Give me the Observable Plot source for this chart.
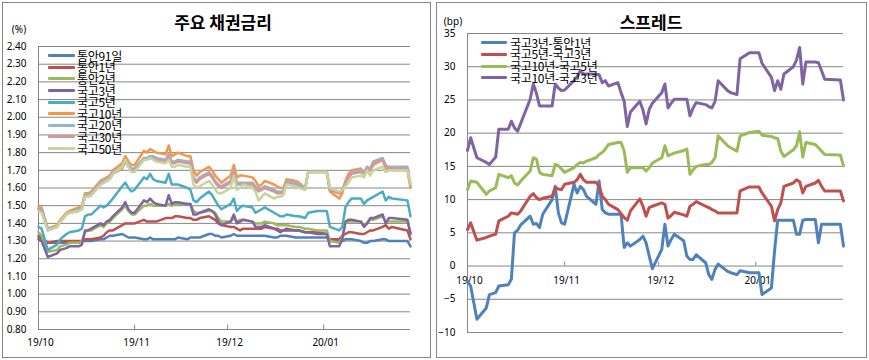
<!DOCTYPE html>
<html><head><meta charset="utf-8">
<script src="https://cdn.jsdelivr.net/npm/d3@7"></script>
<script src="https://cdn.jsdelivr.net/npm/@observablehq/plot@0.6"></script>
<style>
body{margin:0;background:#fff;width:869px;height:360px;overflow:hidden;position:relative;font-family:"Noto Sans CJK KR","Noto Sans",sans-serif;color:#000}
.panel{position:absolute;border:1px solid #868686;box-sizing:border-box;background:#fff}
.panel svg{position:absolute;left:0;top:0}
.abs{position:absolute;white-space:nowrap;line-height:1}
.title{font-weight:bold;font-size:17px;transform:translate(-50%,-50%)}
.unit{font-size:10px;transform:translate(-50%,-50%);font-family:"Noto Sans","Noto Sans CJK KR",sans-serif}
.lg{font-size:12px;transform:translateY(-50%);letter-spacing:-0.3px}
.sw{position:absolute;height:3px;border-radius:1px}
</style></head><body>
<div id="left" class="panel" style="left:2px;top:2px;width:429px;height:356px"></div>
<div id="right" class="panel" style="left:436px;top:2px;width:431px;height:356px"></div>
<script>
const dates = [
"2019-10-01","2019-10-02","2019-10-04","2019-10-07","2019-10-08","2019-10-10","2019-10-11","2019-10-14","2019-10-15","2019-10-16","2019-10-17","2019-10-18","2019-10-21","2019-10-22","2019-10-23","2019-10-24","2019-10-25","2019-10-28","2019-10-29","2019-10-30","2019-10-31",
"2019-11-01","2019-11-04","2019-11-05","2019-11-06","2019-11-07","2019-11-08","2019-11-11","2019-11-12","2019-11-13","2019-11-14","2019-11-15","2019-11-18","2019-11-19","2019-11-20","2019-11-21","2019-11-22","2019-11-25","2019-11-26","2019-11-27","2019-11-28","2019-11-29",
"2019-12-02","2019-12-03","2019-12-04","2019-12-05","2019-12-06","2019-12-09","2019-12-10","2019-12-11","2019-12-12","2019-12-13","2019-12-16","2019-12-17","2019-12-18","2019-12-19","2019-12-20","2019-12-23","2019-12-24","2019-12-26","2019-12-27","2019-12-30",
"2020-01-02","2020-01-03","2020-01-06","2020-01-07","2020-01-08","2020-01-09","2020-01-10","2020-01-13","2020-01-14","2020-01-15","2020-01-16","2020-01-17","2020-01-20","2020-01-21","2020-01-22","2020-01-23","2020-01-28","2020-01-29"];

// 주요 채권금리 (%)
const msb91d = [1.32,1.31,1.29,1.29,1.29,1.29,1.29,1.29,1.30,1.30,1.30,1.30,1.31,1.31,1.32,1.33,1.33,1.34,1.33,1.32,1.32,
 1.32,1.31,1.31,1.32,1.31,1.31,1.31,1.31,1.31,1.31,1.32,1.31,1.32,1.32,1.32,1.32,1.34,1.34,1.33,1.33,1.32,
 1.33,1.34,1.33,1.33,1.33,1.33,1.33,1.33,1.33,1.33,1.32,1.32,1.33,1.33,1.33,1.32,1.32,1.32,1.32,1.32,
 1.32,1.30,1.30,1.30,1.31,1.31,1.31,1.30,1.29,1.29,1.30,1.30,1.31,1.31,1.30,1.30,1.30,1.27];
const msb1y = [1.33,1.32,1.29,1.30,1.30,1.30,1.30,1.30,1.30,1.31,1.31,1.31,1.32,1.33,1.35,1.36,1.36,1.39,1.40,1.40,1.40,
 1.40,1.42,1.41,1.41,1.41,1.41,1.43,1.43,1.43,1.44,1.44,1.43,1.43,1.42,1.42,1.43,1.44,1.43,1.42,1.40,1.39,
 1.38,1.38,1.37,1.36,1.37,1.37,1.37,1.37,1.37,1.38,1.37,1.37,1.36,1.36,1.36,1.36,1.36,1.35,1.35,1.35,
 1.34,1.31,1.31,1.33,1.34,1.35,1.35,1.34,1.34,1.35,1.36,1.36,1.38,1.39,1.37,1.38,1.36,1.31];
const msb2y = [1.35,1.33,1.24,1.25,1.27,1.28,1.29,1.29,1.30,1.35,1.36,1.36,1.39,1.38,1.40,1.41,1.43,1.48,1.50,1.47,1.45,
 1.45,1.50,1.50,1.51,1.50,1.50,1.50,1.51,1.50,1.51,1.51,1.51,1.51,1.47,1.46,1.46,1.47,1.47,1.46,1.43,1.41,
 1.41,1.43,1.41,1.42,1.42,1.41,1.40,1.40,1.40,1.41,1.40,1.39,1.39,1.39,1.39,1.38,1.38,1.37,1.37,1.36,
 1.36,1.30,1.29,1.32,1.40,1.41,1.41,1.41,1.39,1.40,1.42,1.42,1.44,1.41,1.41,1.41,1.41,1.35];
const ktb3y = [1.31,1.30,1.21,1.23,1.25,1.26,1.27,1.27,1.28,1.36,1.36,1.37,1.40,1.39,1.41,1.42,1.44,1.49,1.52,1.48,1.46,
 1.46,1.53,1.52,1.54,1.52,1.51,1.50,1.56,1.51,1.52,1.52,1.51,1.51,1.45,1.45,1.46,1.48,1.47,1.45,1.41,1.39,
 1.41,1.45,1.40,1.41,1.42,1.41,1.38,1.38,1.38,1.39,1.37,1.36,1.35,1.36,1.37,1.36,1.36,1.35,1.35,1.34,
 1.34,1.27,1.27,1.31,1.41,1.42,1.42,1.41,1.38,1.40,1.43,1.43,1.45,1.40,1.43,1.43,1.42,1.34];
const ktb5y = [1.38,1.37,1.25,1.28,1.31,1.34,1.35,1.36,1.37,1.44,1.45,1.45,1.50,1.49,1.50,1.52,1.54,1.61,1.63,1.60,1.58,
 1.59,1.66,1.65,1.68,1.65,1.64,1.63,1.68,1.62,1.62,1.62,1.60,1.59,1.53,1.52,1.54,1.58,1.56,1.53,1.50,1.48,
 1.51,1.54,1.47,1.49,1.50,1.49,1.46,1.47,1.48,1.49,1.46,1.45,1.44,1.44,1.45,1.44,1.44,1.43,1.46,1.47,
 1.47,1.38,1.36,1.38,1.49,1.52,1.54,1.54,1.51,1.53,1.54,1.55,1.58,1.53,1.55,1.54,1.53,1.44];
const ktb10y = [1.49,1.49,1.37,1.39,1.42,1.46,1.47,1.49,1.50,1.57,1.57,1.58,1.64,1.65,1.66,1.67,1.70,1.74,1.78,1.75,1.73,
 1.73,1.81,1.80,1.82,1.81,1.80,1.79,1.84,1.78,1.79,1.80,1.78,1.78,1.70,1.67,1.69,1.72,1.70,1.67,1.65,1.63,
 1.67,1.73,1.66,1.67,1.67,1.66,1.64,1.61,1.62,1.64,1.62,1.61,1.60,1.60,1.65,1.64,1.63,1.60,1.69,1.69,
 1.69,1.58,1.54,1.57,1.64,1.68,1.70,1.71,1.68,1.72,1.70,1.73,1.76,1.71,1.71,1.70,1.70,1.60];
const ktb20y = [1.48,1.48,1.37,1.38,1.41,1.45,1.46,1.48,1.49,1.56,1.56,1.57,1.63,1.64,1.65,1.66,1.69,1.72,1.76,1.73,1.71,
 1.71,1.77,1.77,1.78,1.78,1.77,1.76,1.79,1.75,1.75,1.76,1.75,1.75,1.66,1.64,1.66,1.69,1.67,1.64,1.62,1.61,
 1.64,1.70,1.63,1.63,1.63,1.63,1.61,1.59,1.60,1.61,1.59,1.58,1.58,1.58,1.64,1.63,1.62,1.60,1.69,1.69,
 1.69,1.59,1.57,1.59,1.63,1.66,1.69,1.70,1.69,1.72,1.71,1.75,1.77,1.73,1.72,1.72,1.72,1.62];
const ktb30y = [1.48,1.47,1.36,1.38,1.41,1.45,1.46,1.47,1.48,1.55,1.55,1.56,1.62,1.63,1.64,1.65,1.68,1.71,1.75,1.72,1.70,
 1.70,1.76,1.76,1.77,1.77,1.76,1.75,1.78,1.74,1.74,1.75,1.74,1.74,1.65,1.63,1.65,1.68,1.66,1.63,1.61,1.60,
 1.63,1.69,1.62,1.62,1.62,1.62,1.60,1.58,1.59,1.60,1.58,1.57,1.57,1.57,1.63,1.62,1.61,1.59,1.69,1.69,
 1.69,1.59,1.57,1.59,1.63,1.66,1.68,1.69,1.68,1.71,1.70,1.74,1.76,1.72,1.71,1.71,1.71,1.61];
const ktb50y = [1.47,1.46,1.36,1.38,1.41,1.45,1.46,1.47,1.48,1.55,1.55,1.56,1.62,1.63,1.64,1.65,1.68,1.72,1.76,1.72,1.69,
 1.69,1.76,1.76,1.77,1.76,1.75,1.74,1.76,1.72,1.72,1.73,1.72,1.72,1.62,1.60,1.61,1.64,1.62,1.59,1.57,1.57,
 1.60,1.67,1.59,1.60,1.62,1.60,1.58,1.53,1.55,1.57,1.54,1.55,1.55,1.56,1.62,1.61,1.60,1.59,1.69,1.69,
 1.69,1.60,1.58,1.59,1.61,1.63,1.66,1.67,1.66,1.70,1.67,1.70,1.72,1.69,1.70,1.70,1.70,1.62];

// 스프레드 (bp)
const sp3y1y = [-2.3,-3.0,-8.0,-6.3,-4.3,-4.0,-3.0,-2.8,-2.0,5.0,5.4,6.2,7.5,6.3,6.4,5.8,7.8,10.0,12.0,8.0,6.5,
 6.3,12.3,11.0,12.0,11.5,10.5,9.3,12.8,8.5,8.0,7.8,7.8,7.8,2.8,3.5,3.0,4.0,4.5,3.5,1.5,-0.4,
 2.5,6.3,3.0,4.0,4.8,3.8,1.5,1.0,1.0,1.7,0.5,-1.3,-2.0,-0.5,0.3,-0.8,-1.0,-1.3,-0.7,-1.0,
 -1.0,-4.3,-3.3,2.3,6.9,6.9,6.9,6.9,4.8,4.8,6.9,7.0,7.0,3.5,6.3,6.3,6.3,3.0];
const sp5y3y = [5.5,6.5,3.9,4.3,4.5,4.8,6.8,7.5,8.0,7.9,7.8,8.3,10.5,10.9,10.3,10.0,10.2,10.5,11.8,11.6,11.5,
 12.3,12.6,13.0,13.8,13.0,12.6,12.6,12.0,10.5,10.0,9.3,8.5,7.9,7.3,6.9,8.3,10.1,9.0,7.5,8.8,9.0,
 9.5,9.3,7.2,7.6,8.1,7.7,7.5,9.0,9.3,9.7,9.0,8.8,8.5,8.3,8.0,8.0,8.0,8.0,11.3,11.9,
 11.9,11.0,9.0,6.8,8.5,9.5,12.0,12.5,13.0,12.7,11.0,12.0,12.5,12.9,12.0,11.3,11.3,9.8];
const sp10y5y = [11.5,12.8,12.6,10.8,11.3,11.8,13.8,13.3,13.6,12.5,12.2,12.8,14.3,16.3,16.1,14.1,13.8,13.6,15.3,15.1,14.6,
 14.1,14.8,15.3,15.6,15.5,15.8,16.3,16.8,17.1,17.6,18.3,18.6,18.6,17.3,14.1,14.8,14.8,14.8,14.3,14.8,15.5,
 16.3,18.1,16.6,16.8,17.0,17.4,17.6,13.8,14.5,15.0,15.3,15.3,15.6,16.3,19.6,18.1,17.8,17.3,19.6,20.1,
 20.3,19.7,19.5,19.3,19.2,17.3,16.5,17.5,18.1,20.2,16.4,18.6,18.3,17.8,17.3,16.8,16.7,15.1];
const sp10y3y = [17.4,19.3,16.3,15.6,15.3,16.4,20.6,20.6,21.8,20.8,20.3,21.5,25.1,27.4,26.0,24.1,24.1,24.1,27.4,26.8,26.4,
 26.5,27.9,28.5,29.4,28.9,28.9,28.9,28.8,27.6,27.9,27.1,27.6,26.1,24.8,21.0,23.2,24.8,23.5,21.4,23.6,24.5,
 26.1,27.4,23.8,24.5,25.1,25.1,25.1,22.6,23.8,24.6,24.3,24.0,23.8,24.8,27.9,26.4,26.1,25.8,31.2,32.1,
 32.1,30.5,28.4,26.4,27.9,26.6,28.9,30.0,31.0,32.9,27.4,30.7,30.7,30.6,29.4,28.1,28.0,25.0];

const leftNames = ["통안91일","통안1년","통안2년","국고3년","국고5년","국고10년","국고20년","국고30년","국고50년"];
const leftColors = ["#4F81BD","#C0504D","#9BBB59","#8064A2","#4BACC6","#F79646","#95B3D7","#D99694","#C3D69B"];
const leftSeries = [msb91d,msb1y,msb2y,ktb3y,ktb5y,ktb10y,ktb20y,ktb30y,ktb50y];
const rightNames = ["국고3년-통안1년","국고5년-국고3년","국고10년-국고5년","국고10년-국고3년"];
const rightColors = ["#4F81BD","#C0504D","#9BBB59","#8064A2"];
const rightSeries = [sp3y1y,sp5y3y,sp10y5y,sp10y3y];

const monthTicks = ["2019-10-01","2019-11-01","2019-12-01","2020-01-01"].map(d => new Date(d));
const leftYTicks = [0.8,0.9,1.0,1.1,1.2,1.3,1.4,1.5,1.6,1.7,1.8,1.9,2.0,2.1,2.2,2.3,2.4];
const rightYTicks = [-10,-5,0,5,10,15,20,25,30,35];
const xDomain = [new Date(dates[0]), new Date(dates[dates.length-1])];
const fmt = d3.utcFormat("%y/%m");
const grid = "#868686";
const numFont = '"Noto Sans","Noto Sans CJK KR",sans-serif';

function rowsOf(series, names){
  return series.flatMap((vals,i) => vals.map((v,j) => ({date: new Date(dates[j]), value: v, series: names[i]})));
}

const leftPlot = Plot.plot({
  width: 427, height: 354,
  marginLeft: 35, marginRight: 20, marginTop: 43, marginBottom: 28,
  style: {fontFamily: numFont, fontSize: "10px", background: "transparent", color: "#000"},
  x: {type: "utc", domain: xDomain},
  y: {domain: [0.8, 2.4]},
  color: {domain: leftNames, range: leftColors},
  marks: [
    Plot.ruleY(leftYTicks, {stroke: grid, strokeWidth: 1}),
    Plot.ruleX([xDomain[0]], {stroke: grid, strokeWidth: 1}),
    Plot.ruleX(monthTicks.slice(1), {y1: 0.8, y2: 0.825, stroke: grid}),
    Plot.axisY(leftYTicks, {tickSize: 0, tickPadding: 12, tickFormat: d => d.toFixed(2), label: null, fontSize: 10}),
    Plot.axisX(monthTicks, {tickSize: 0, tickPadding: 9, tickFormat: fmt, label: null, fontSize: 10, dx: 2}),
    Plot.lineY(rowsOf(leftSeries, leftNames), {x: "date", y: "value", z: "series", stroke: "series", strokeWidth: 2.5})
  ]
});
document.getElementById("left").appendChild(leftPlot);

const rightPlot = Plot.plot({
  width: 429, height: 354,
  marginLeft: 30, marginRight: 23, marginTop: 30, marginBottom: 25,
  style: {fontFamily: numFont, fontSize: "10px", background: "transparent", color: "#000"},
  x: {type: "utc", domain: xDomain, axis: null},
  y: {domain: [-10, 35]},
  color: {domain: rightNames, range: rightColors},
  marks: [
    Plot.ruleY(rightYTicks, {stroke: grid, strokeWidth: 1}),
    Plot.ruleX([xDomain[0]], {stroke: grid, strokeWidth: 1}),
    Plot.ruleX(monthTicks.slice(1), {y1: 0, y2: 0.6, stroke: grid}),
    Plot.axisY(rightYTicks, {tickSize: 0, tickPadding: 12, label: null, fontSize: 10}),
    Plot.text(monthTicks, {x: d => d, y: 0, text: d => fmt(d), dy: 15, dx: 2, fontSize: 10}),
    Plot.lineY(rowsOf(rightSeries, rightNames), {x: "date", y: "value", z: "series", stroke: "series", strokeWidth: 3})
  ]
});
document.getElementById("right").appendChild(rightPlot);

function addText(cls, txt, x, y){
  const d = document.createElement("div");
  d.className = "abs " + cls; d.textContent = txt;
  d.style.left = x + "px"; d.style.top = y + "px";
  document.body.appendChild(d);
}
function addSwatch(color, x, y, w){
  const d = document.createElement("div");
  d.className = "sw"; d.style.background = color;
  d.style.left = x + "px"; d.style.top = (y - 1.5) + "px"; d.style.width = w + "px";
  document.body.appendChild(d);
}
addText("title", "주요 채권금리", 223, 21);
addText("title", "스프레드", 651, 21);
addText("unit", "(%)", 19, 29);
addText("unit", "(bp)", 453, 21);
leftNames.forEach((n,i) => { const y = 55.7 + i*11.6; addSwatch(leftColors[i], 48, y, 27); addText("lg", n, 77, y); });
rightNames.forEach((n,i) => { const y = 42.7 + i*11.7; addSwatch(rightColors[i], 481, y, 26); addText("lg", n, 510, y); });
</script>
</body></html>
